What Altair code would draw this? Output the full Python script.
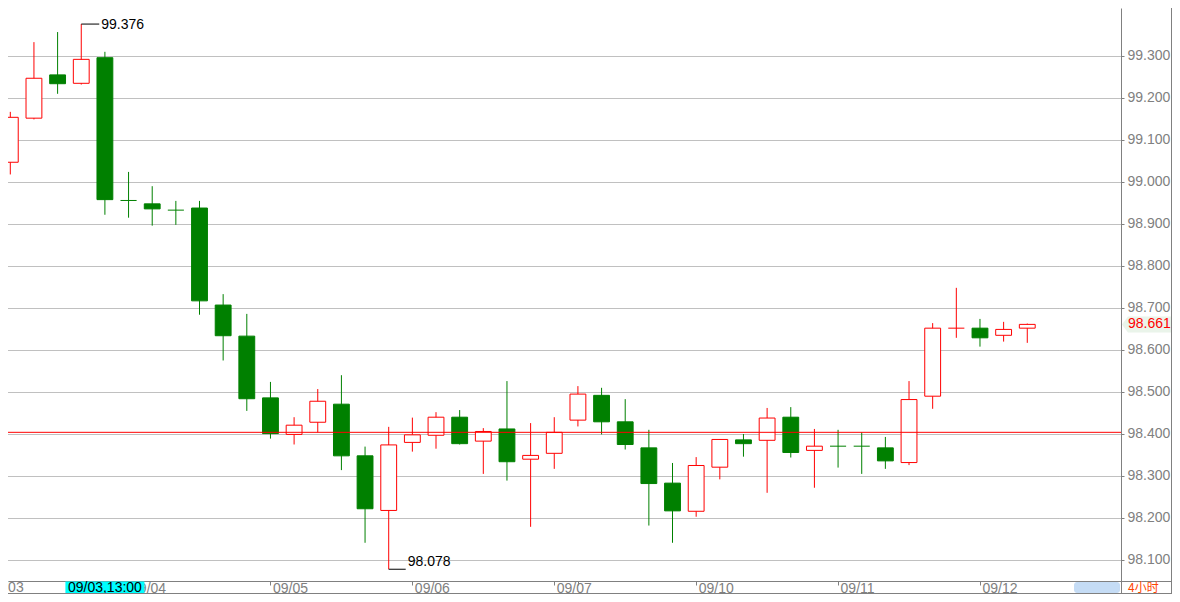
import altair as alt
import pandas as pd

# ---- data (4-hour candles) ----
opens = [99.047, 99.152, 99.255, 99.235, 99.296, 98.956, 98.948, 98.933, 98.938, 98.707,
         98.633, 98.486, 98.399, 98.428, 98.471, 98.348, 98.218, 98.380, 98.397, 98.440,
         98.383, 98.412, 98.340, 98.354, 98.433, 98.492, 98.429, 98.367, 98.283, 98.216,
         98.321, 98.386, 98.385, 98.440, 98.361, 98.371, 98.371, 98.367, 98.332, 98.490,
         98.652, 98.652, 98.635, 98.652]
highs = [99.167, 99.333, 99.357, 99.376, 99.310, 99.024, 98.990, 98.955, 98.955, 98.733,
         98.686, 98.524, 98.440, 98.507, 98.540, 98.370, 98.417, 98.439, 98.452, 98.457,
         98.414, 98.526, 98.426, 98.440, 98.514, 98.510, 98.483, 98.410, 98.331, 98.345,
         98.388, 98.400, 98.462, 98.464, 98.412, 98.410, 98.404, 98.393, 98.526, 98.664,
         98.748, 98.674, 98.667, 98.663]
lows = [99.018, 99.149, 99.210, 99.232, 98.922, 98.915, 98.896, 98.898, 98.684, 98.575,
        98.455, 98.389, 98.375, 98.404, 98.314, 98.141, 98.078, 98.358, 98.365, 98.375,
        98.305, 98.289, 98.179, 98.317, 98.418, 98.399, 98.363, 98.182, 98.141, 98.203,
        98.292, 98.346, 98.260, 98.344, 98.272, 98.320, 98.305, 98.317, 98.326, 98.460,
        98.629, 98.608, 98.620, 98.617]
closes = [99.154, 99.247, 99.234, 99.292, 98.958, 98.956, 98.936, 98.933, 98.717, 98.634,
          98.484, 98.401, 98.421, 98.478, 98.348, 98.222, 98.374, 98.398, 98.440, 98.377,
          98.406, 98.334, 98.349, 98.404, 98.495, 98.429, 98.375, 98.282, 98.217, 98.325,
          98.387, 98.377, 98.438, 98.356, 98.371, 98.371, 98.371, 98.336, 98.482, 98.652,
          98.652, 98.629, 98.649, 98.661]
dirs = ["up", "up", "down", "up", "down", "down", "down", "down", "down", "down",
        "down", "down", "up", "up", "down", "down", "up", "up", "up", "down",
        "up", "down", "up", "up", "up", "down", "down", "down", "down", "up",
        "up", "down", "up", "down", "up", "down", "down", "down", "up", "up",
        "up", "down", "up", "up"]

tick_idx = [5, 11, 17, 23, 24, 29, 35, 41]
tick_lbl = ["09/04", "09/05", "09/06", "09/07", "", "09/10", "09/11", "09/12"]
first_day_idx = [-1]
first_day_lbl = ["09/03"]
y_ticks = [98.1, 98.2, 98.3, 98.4, 98.5, 98.6, 98.7, 98.8, 98.9, 99.0, 99.1, 99.2, 99.3]
ref_price = [98.404]
cross_idx = [4]
cross_lbl = ["09/03,13:00"]
period_lbl = ["4小时"]

# ---- layout (svg = 1164 x 586 so the page is exactly 1180 x 602) ----
PW, PH = 1113, 573
RW, BH = 51, 13
GRAY = "#808080"
GREEN = "#008000"
RED = "#ff0000"
FONT = "Liberation Sans"

df = pd.DataFrame({"i": list(range(len(opens))), "open": opens, "high": highs,
                   "low": lows, "close": closes, "dir": dirs})

X = alt.Scale(domain=[-0.0973, 46.963], nice=False, zero=False)
Y = alt.Scale(domain=[98.05, 99.41428], nice=False, zero=False)
CS = alt.Scale(domain=["up", "down"], range=[RED, GREEN])
FS = alt.Scale(domain=["up", "down"], range=["#ffffff", GREEN])

label_expr = " : ".join(f"datum.value == {i} ? '{l}'" for i, l in zip(tick_idx, tick_lbl)) + " : ''"

xaxis = alt.Axis(values=tick_idx, labelExpr=label_expr, labelAlign="left", labelOffset=2,
                 labelBaseline="middle", labelPadding=3, tickSize=4, tickColor=GRAY,
                 domainColor=GRAY, labelColor=GRAY, labelFontSize=14, labelFont=FONT,
                 grid=False, labelOverlap=False, labelBound=False, labelFlush=False, title=None)
yaxis = alt.Axis(orient="right", values=y_ticks, format=".3f", grid=True, gridColor=GRAY,
                 gridDash=[1, 1], gridOpacity=1, tickSize=3, tickColor=GRAY, labelPadding=3,
                 labelColor=GRAY, labelFontSize=14, labelFont=FONT, domainColor=GRAY,
                 labelOverlap=False, labelBound=False, labelFlush=False, title=None)

base = alt.Chart(df)

wicks = base.mark_rule(strokeWidth=1).encode(
    x=alt.X("i:Q", scale=X, axis=xaxis, title=None),
    y=alt.Y("low:Q", scale=Y, axis=yaxis, title=None),
    y2="high:Q",
    color=alt.Color("dir:N", scale=CS, legend=None),
)

bodies = base.transform_filter("datum.open != datum.close").transform_calculate(
    x0="datum.i - 0.335", x1="datum.i + 0.335"
).mark_rect(strokeWidth=1).encode(
    x=alt.X("x0:Q", scale=X, title=None), x2="x1:Q",
    y=alt.Y("open:Q", scale=Y, title=None), y2="close:Q",
    fill=alt.Fill("dir:N", scale=FS, legend=None),
    stroke=alt.Stroke("dir:N", scale=CS, legend=None),
)

dojis = base.transform_filter("datum.open == datum.close").transform_calculate(
    x0="datum.i - 0.34", x1="datum.i + 0.34"
).mark_rule(strokeWidth=1).encode(
    x=alt.X("x0:Q", scale=X, title=None), x2="x1:Q",
    y=alt.Y("close:Q", scale=Y, title=None),
    color=alt.Color("dir:N", scale=CS, legend=None),
)

refline = alt.Chart(pd.DataFrame({"p": ref_price})).mark_rule(color=RED, strokeWidth=1).encode(
    y=alt.Y("p:Q", scale=Y, title=None)
)

# high / low annotations
hi_i = int(df["high"].idxmax())
lo_i = int(df["low"].idxmin())
hi_df = pd.DataFrame({"i": [hi_i], "p": [highs[hi_i]], "t": [f"{highs[hi_i]:.3f}"]})
lo_df = pd.DataFrame({"i": [lo_i], "p": [lows[lo_i]], "t": [f"{lows[lo_i]:.3f}"]})

hi_rule = alt.Chart(hi_df).mark_rule(color="black", strokeWidth=1, x2Offset=18).encode(
    x=alt.X("i:Q", scale=X, title=None), x2="i:Q", y=alt.Y("p:Q", scale=Y, title=None))
hi_text = alt.Chart(hi_df).mark_text(align="left", baseline="middle", dx=20, dy=1, fontSize=14,
                                     font=FONT, color="black").encode(
    x=alt.X("i:Q", scale=X, title=None), y=alt.Y("p:Q", scale=Y, title=None), text="t:N")
lo_rule = alt.Chart(lo_df).mark_rule(color="black", strokeWidth=1, x2Offset=17).encode(
    x=alt.X("i:Q", scale=X, title=None), x2="i:Q", y=alt.Y("p:Q", scale=Y, title=None))
lo_text = alt.Chart(lo_df).mark_text(align="left", baseline="alphabetic", dx=19, dy=-3, fontSize=14,
                                     font=FONT, color="black").encode(
    x=alt.X("i:Q", scale=X, title=None), y=alt.Y("p:Q", scale=Y, title=None), text="t:N")

# current price tag on the right
last_df = pd.DataFrame({"p": [closes[-1]], "t": [f"{closes[-1]:.3f}"]})
tag_bg = alt.Chart(last_df).mark_point(
    shape="M -1 0 L -0.76 -0.32 L 1 -0.32 L 1 0.32 L -0.76 0.32 Z",
    filled=True, size=2500, color="#eaf4ea", opacity=1, strokeWidth=0
).encode(x=alt.value(PW + 26), y=alt.Y("p:Q", scale=Y, title=None))
tag_text = alt.Chart(last_df).mark_text(align="left", baseline="middle", fontSize=14, font=FONT,
                                        color=RED).encode(
    x=alt.value(PW + 7), y=alt.Y("p:Q", scale=Y, title=None), text="t:N")

# first day label (left of the visible range)
first_df = pd.DataFrame({"i": first_day_idx, "t": first_day_lbl})
first_text = alt.Chart(first_df).mark_text(align="left", baseline="middle", dx=2, fontSize=14,
                                           font=FONT, color=GRAY).encode(
    x=alt.X("i:Q", scale=X, title=None), y=alt.value(PH + 7), text="t:N")

# crosshair time box
cross_df = pd.DataFrame({"i": cross_idx, "t": cross_lbl})
cross_box = alt.Chart(cross_df).transform_calculate(
    x0="datum.i - 1.67", x1="datum.i + 1.67"
).mark_rect(color="#00ffff").encode(
    x=alt.X("x0:Q", scale=X, title=None), x2="x1:Q", y=alt.value(PH + 0.5), y2=alt.value(PH + BH))
cross_text = alt.Chart(cross_df).mark_text(align="center", baseline="middle", fontSize=14, font=FONT,
                                           color="black").encode(
    x=alt.X("i:Q", scale=X, title=None), y=alt.value(PH + 7), text="t:N")

# frame / scrollbar decorations
one = pd.DataFrame({"k": [0]})
frame_h1 = alt.Chart(one).mark_rule(color=GRAY, strokeWidth=1).encode(
    x=alt.value(PW), x2=alt.value(PW + RW), y=alt.value(PH + 0.5))
frame_v1 = alt.Chart(one).mark_rule(color=GRAY, strokeWidth=1).encode(
    x=alt.value(PW + 0.5), y=alt.value(PH), y2=alt.value(PH + BH))
frame_h2 = alt.Chart(one).mark_rule(color=GRAY, strokeWidth=1).encode(
    x=alt.value(0), x2=alt.value(PW + RW), y=alt.value(PH + BH - 0.5))
frame_v2 = alt.Chart(one).mark_rule(color=GRAY, strokeWidth=1).encode(
    x=alt.value(PW + RW - 0.5), y=alt.value(0), y2=alt.value(PH + BH))
scroll = alt.Chart(one).mark_rect(color="#c5dcf5", cornerRadius=3).encode(
    x=alt.value(1066), x2=alt.value(PW - 1), y=alt.value(PH + 1), y2=alt.value(PH + BH - 1))
period = alt.Chart(pd.DataFrame({"t": period_lbl})).mark_text(
    align="left", baseline="middle", fontSize=12, font="Noto Sans CJK SC", color="#ff4500"
).encode(x=alt.value(PW + 7), y=alt.value(PH + 6.5), text="t:N")

chart = alt.layer(
    wicks, bodies, dojis, refline, hi_rule, hi_text, lo_rule, lo_text,
    tag_bg, tag_text, first_text, cross_box, cross_text,
    frame_h1, frame_v1, frame_h2, frame_v2, scroll, period
).properties(
    width=PW, height=PH,
    autosize=alt.AutoSizeParams(type="none"),
    padding={"left": 0, "top": 0, "right": RW, "bottom": BH},
    background="white",
    view=alt.ViewBackground(stroke="transparent", strokeWidth=0),
).configure_view(stroke="transparent", strokeWidth=0).configure(font=FONT)

chart.save("out.html", embed_options={"renderer": "svg", "actions": False})
